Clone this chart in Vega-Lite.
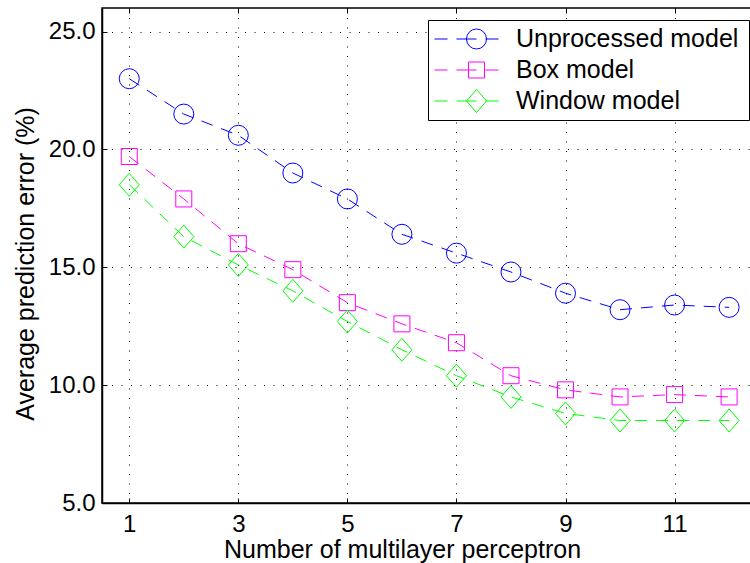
{
  "$schema": "https://vega.github.io/schema/vega-lite/v6.json",
  "width": 650,
  "height": 495,
  "autosize": "none",
  "padding": {"left": 102, "top": 8, "right": 0, "bottom": 60},
  "background": "white",
  "config": {
    "font": "Liberation Sans",
    "view": {"stroke": "black", "strokeWidth": 1.5},
    "axis": {
      "domainColor": "black",
      "domainWidth": 1.5,
      "tickColor": "black",
      "tickWidth": 1,
      "tickSize": -5,
      "gridColor": "black",
      "gridDash": [1, 8.5],
      "gridOpacity": 1,
      "gridWidth": 1,
      "labelFont": "Liberation Sans",
      "titleFont": "Liberation Sans",
      "labelFontSize": 24,
      "titleFontSize": 25,
      "titleFontWeight": "normal",
      "labelColor": "black",
      "titleColor": "black"
    },
    "legend": {
      "title": null,
      "orient": "none",
      "legendY": 12,
      "padding": 6,
      "symbolStrokeWidth": 1,
      "clipHeight": 26,
      "rowPadding": 5,
      "labelLimit": 400,
      "labelFont": "Liberation Sans",
      "labelFontSize": 25
    }
  },
  "data": {
    "values": [
      {"n": 1, "error": 23.0, "model": "Unprocessed model"},
      {"n": 2, "error": 21.5, "model": "Unprocessed model"},
      {"n": 3, "error": 20.6, "model": "Unprocessed model"},
      {"n": 4, "error": 19.0, "model": "Unprocessed model"},
      {"n": 5, "error": 17.9, "model": "Unprocessed model"},
      {"n": 6, "error": 16.4, "model": "Unprocessed model"},
      {"n": 7, "error": 15.6, "model": "Unprocessed model"},
      {"n": 8, "error": 14.8, "model": "Unprocessed model"},
      {"n": 9, "error": 13.9, "model": "Unprocessed model"},
      {"n": 10, "error": 13.2, "model": "Unprocessed model"},
      {"n": 11, "error": 13.4, "model": "Unprocessed model"},
      {"n": 12, "error": 13.3, "model": "Unprocessed model"},
      {"n": 1, "error": 19.7, "model": "Box model"},
      {"n": 2, "error": 17.9, "model": "Box model"},
      {"n": 3, "error": 16.0, "model": "Box model"},
      {"n": 4, "error": 14.9, "model": "Box model"},
      {"n": 5, "error": 13.5, "model": "Box model"},
      {"n": 6, "error": 12.6, "model": "Box model"},
      {"n": 7, "error": 11.8, "model": "Box model"},
      {"n": 8, "error": 10.4, "model": "Box model"},
      {"n": 9, "error": 9.8, "model": "Box model"},
      {"n": 10, "error": 9.5, "model": "Box model"},
      {"n": 11, "error": 9.6, "model": "Box model"},
      {"n": 12, "error": 9.5, "model": "Box model"},
      {"n": 1, "error": 18.5, "model": "Window model"},
      {"n": 2, "error": 16.3, "model": "Window model"},
      {"n": 3, "error": 15.1, "model": "Window model"},
      {"n": 4, "error": 14.0, "model": "Window model"},
      {"n": 5, "error": 12.7, "model": "Window model"},
      {"n": 6, "error": 11.5, "model": "Window model"},
      {"n": 7, "error": 10.4, "model": "Window model"},
      {"n": 8, "error": 9.5, "model": "Window model"},
      {"n": 9, "error": 8.8, "model": "Window model"},
      {"n": 10, "error": 8.5, "model": "Window model"},
      {"n": 11, "error": 8.5, "model": "Window model"},
      {"n": 12, "error": 8.5, "model": "Window model"}
    ]
  },
  "encoding": {
    "y": {
      "field": "error",
      "type": "quantitative",
      "scale": {"domain": [5, 26], "nice": false, "zero": false},
      "axis": {
        "values": [5, 10, 15, 20, 25],
        "format": ".1f",
        "title": "Average prediction error (%)",
        "labelPadding": 12,
        "titleBaseline": "alphabetic",
        "titleX": -69,
        "titleY": 255.5
      }
    }
  },
  "resolve": {"axis": {"x": "independent"}, "legend": {"color": "independent", "shape": "independent"}},
  "layer": [
    {
      "mark": {"type": "line", "strokeDash": [12, 9], "strokeWidth": 1},
      "encoding": {
        "x": {
          "field": "n",
          "type": "quantitative",
          "scale": {"domain": [0.5, 12.42], "nice": false, "zero": false},
          "axis": {
            "orient": "bottom",
            "values": [1, 3, 5, 7, 9, 11],
            "format": "d",
            "grid": true,
            "title": "Number of multilayer perceptron",
            "labelPadding": 14,
            "titleBaseline": "alphabetic",
            "titleX": 300,
            "titleY": 54
          }
        },
        "color": {
          "field": "model",
          "type": "nominal",
          "scale": {
            "domain": ["Unprocessed model", "Box model", "Window model"],
            "range": ["#0000ff", "#ff00ff", "#00ff00"]
          },
          "legend": {
            "legendX": 326,
            "fillColor": "white",
            "strokeColor": "black",
            "symbolType": "stroke",
            "symbolSize": 4096,
            "symbolDash": [13, 9, 20, 9, 13],
            "labelExpr": "''",
            "labelOffset": 244
          }
        }
      }
    },
    {
      "mark": {"type": "point", "filled": false, "strokeWidth": 1, "opacity": 1, "size": 400},
      "encoding": {
        "x": {
          "field": "n",
          "type": "quantitative",
          "scale": {"domain": [0.5, 12.42], "nice": false, "zero": false},
          "axis": {
            "orient": "top",
            "values": [1, 3, 5, 7, 9, 11],
            "labels": false,
            "grid": false,
            "domain": false,
            "title": null
          }
        },
        "color": {
          "field": "model",
          "type": "nominal",
          "scale": {
            "domain": ["Unprocessed model", "Box model", "Window model"],
            "range": ["#0000ff", "#ff00ff", "#00ff00"]
          },
          "legend": {
            "legendX": 356,
            "symbolSize": 400,
            "labelOffset": 27,
            "labelColor": "black"
          }
        },
        "shape": {
          "field": "model",
          "type": "nominal",
          "scale": {
            "domain": ["Unprocessed model", "Box model", "Window model"],
            "range": ["circle", "M-0.8,-0.8H0.8V0.8H-0.8Z", "M0,-1.15L1,0L0,1.15L-1,0Z"]
          },
          "legend": {
            "legendX": 356,
            "symbolSize": 400,
            "labelOffset": 27,
            "labelColor": "black"
          }
        }
      }
    }
  ]
}
